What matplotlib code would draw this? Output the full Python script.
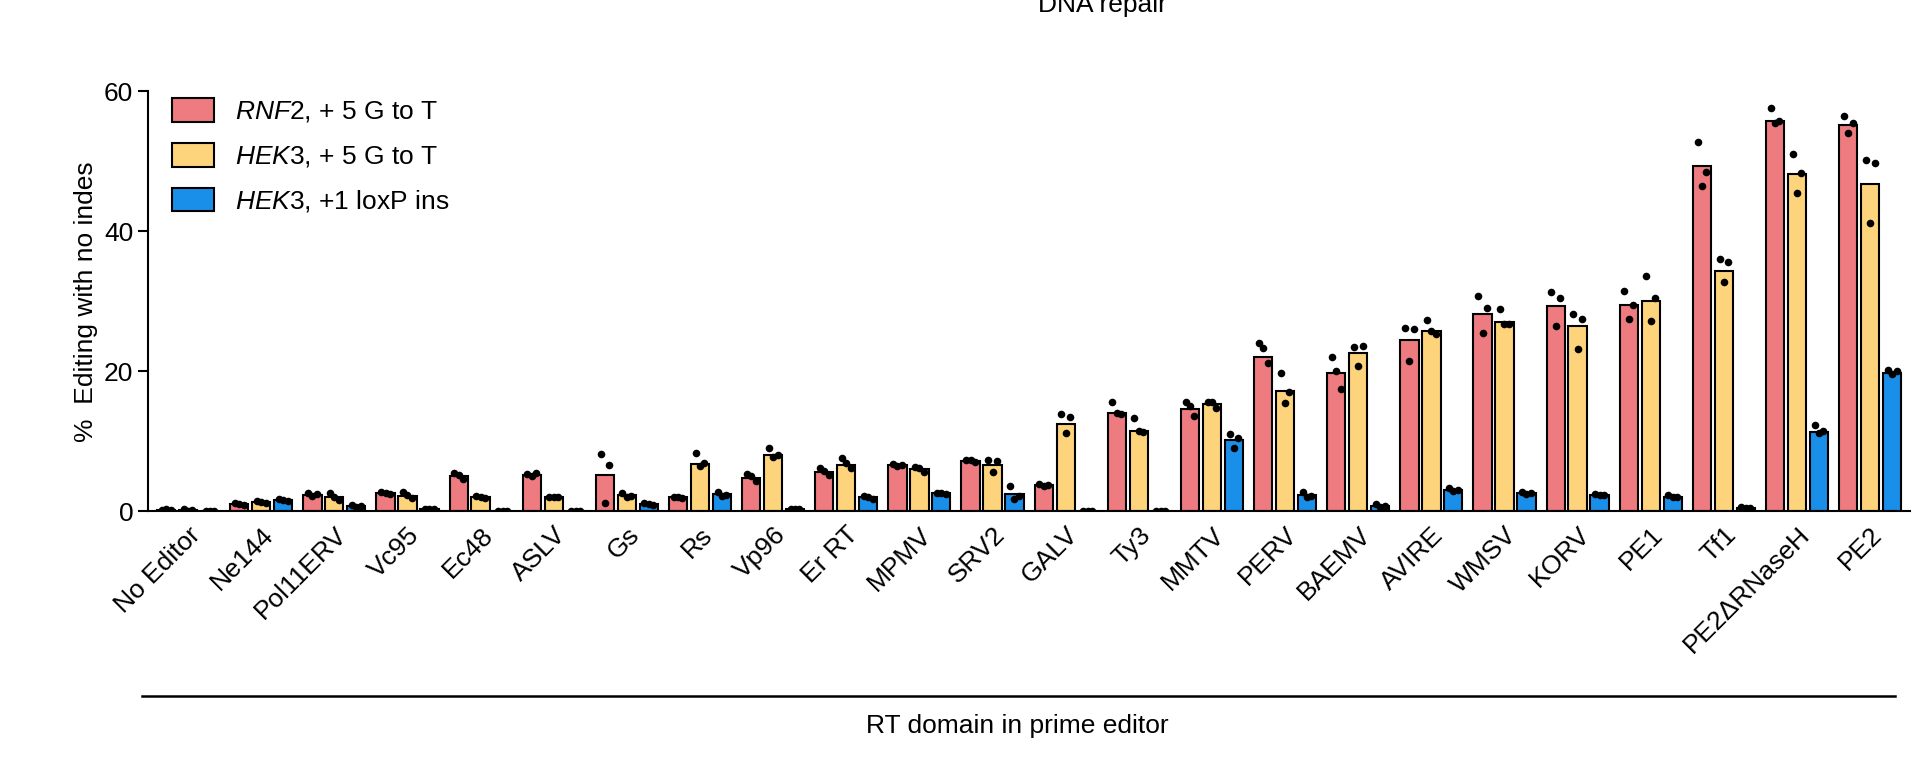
import matplotlib
matplotlib.use("Agg")
import matplotlib.pyplot as plt
import numpy as np

plt.rcParams["font.family"] = "Liberation Sans"
plt.rcParams["mathtext.fontset"] = "custom"
plt.rcParams["mathtext.it"] = "Liberation Sans:italic"
plt.rcParams["mathtext.rm"] = "Liberation Sans"

categories = ["No Editor","Ne144","Pol11ERV","Vc95","Ec48","ASLV","Gs","Rs","Vp96","Er RT",
              "MPMV","SRV2","GALV","Ty3","MMTV","PERV","BAEMV","AVIRE","WMSV","KORV","PE1",
              "Tf1","PE2ΔRNaseH","PE2"]
rnf2_mean = [0.2,1.0,2.4,2.6,5.0,5.2,5.2,2.0,4.8,5.7,6.6,7.2,3.8,14.0,14.6,22.0,19.7,24.5,28.2,29.3,29.5,49.3,55.8,55.2]
hek3_mean = [0.2,1.3,2.0,2.2,2.0,2.0,2.3,6.8,8.0,6.6,6.0,6.7,12.5,11.5,15.3,17.2,22.6,25.8,27.0,26.5,30.0,34.3,48.2,46.8]
loxp_mean = [0.1,1.6,0.8,0.3,0.1,0.1,1.0,2.5,0.3,2.0,2.6,2.5,0.1,0.1,10.2,2.3,0.8,3.1,2.6,2.3,2.1,0.5,11.4,19.8]
rnf2_pts = [[.2,.2,.3],[1.2,.9,1.0],[2.6,2.5,2.2],[2.8,2.5,2.6],[5.5,4.6,5.2],[5.3,5.5,5.0],[8.2,6.6,1.2],
            [2.1,1.9,2.0],[5.3,4.3,5.0],[6.2,5.2,5.8],[6.8,6.6,6.5],[7.4,7.0,7.3],[3.9,3.8,3.7],[15.7,13.9,14.0],
            [15.6,13.7,15.0],[24.0,21.2,23.4],[22.0,17.5,20.0],[26.2,26.0,21.5],[30.8,29.0,25.5],[31.3,30.5,26.5],
            [31.5,29.5,27.5],[52.8,48.5,46.5],[57.6,55.8,55.5],[56.5,55.5,54.0]]
hek3_pts = [[.3,.2,.1],[1.5,1.2,1.3],[2.6,1.6,2.0],[2.8,1.9,2.3],[2.2,1.9,2.0],[2.1,2.0,2.0],[2.7,2.2,2.1],
            [8.3,6.9,6.5],[9.0,8.1,7.8],[7.7,6.2,6.9],[6.3,5.6,6.2],[7.4,7.2,5.6],[13.9,13.5,11.2],[13.3,11.3,11.5],
            [15.7,14.8,15.6],[19.8,17.0,15.5],[23.5,23.6,20.8],[27.3,25.3,25.8],[28.9,26.7,26.8],[28.2,27.5,23.2],
            [33.6,30.5,27.2],[36.0,35.6,32.8],[51.0,48.3,45.5],[50.2,49.8,41.2]]
loxp_pts = [[.1,.1,.1],[1.8,1.5,1.6],[.9,.8,.7],[.3,.3,.3],[.1,.1,.1],[.1,.1,.1],[1.2,.9,1.0],[2.8,2.4,2.2],
            [.3,.3,.3],[2.2,1.8,2.0],[2.7,2.5,2.6],[3.6,2.2,1.8],[.1,.1,.1],[.1,.1,.1],[11.0,10.5,9.0],
            [2.8,2.2,2.0],[1.0,.8,.7],[3.4,3.1,2.9],[2.8,2.6,2.5],[2.5,2.4,2.3],[2.3,2.0,2.1],[.6,.5,.5],
            [12.3,11.5,11.2],[20.2,20.0,19.6]]

fig = plt.figure(figsize=(19.2, 7.6), dpi=100)
ax = fig.add_axes([0.077, 0.327, 0.918, 0.553])
x = np.arange(len(categories))
w = 0.25
series = [(rnf2_mean, rnf2_pts, "#EE7B7F"), (hek3_mean, hek3_pts, "#FDD37C"),
          (loxp_mean, loxp_pts, "#1A8FEA")]
labels = [r"$\mathit{RNF2}$, + 5 G to T", r"$\mathit{HEK3}$, + 5 G to T", r"$\mathit{HEK3}$, +1 loxP ins"]
offs = [-0.3, 0.0, 0.3]
for (m, p, c), off, lab in zip(series, offs, labels):
    ax.bar(x + off, m, width=w, color=c, edgecolor="black", linewidth=1.5, label=lab, zorder=2)
    for i, pts in enumerate(p):
        jit = [-0.06, 0.06, 0.0]
        ax.scatter(x[i] + off + np.array(jit), pts, s=30, color="black", zorder=3, linewidths=0)

ax.set_xlim(-0.55, len(categories) - 0.45)
ax.set_ylim(0, 60)
ax.set_yticks([0, 20, 40, 60])
ax.set_xticks(x)
ax.set_xticklabels(categories, rotation=45, ha="right", rotation_mode="anchor", fontsize=19)
ax.tick_params(axis="x", length=0, pad=8)
ax.tick_params(axis="y", labelsize=19, width=1.5, length=7)
for s in ["top", "right"]:
    ax.spines[s].set_visible(False)
ax.spines["left"].set_linewidth(1.5)
ax.spines["bottom"].set_linewidth(1.5)
ax.set_ylabel("%  Editing with no indes", fontsize=19)
ax.legend(loc="upper left", bbox_to_anchor=(0.0, 1.04), frameon=False, fontsize=19,
          handlelength=1.6, handleheight=1.0, labelspacing=0.7)

fig.add_artist(plt.Line2D([0.074, 0.987], [0.084, 0.084], color="black", linewidth=1.8))
fig.text(0.53, 0.035, "RT domain in prime editor", ha="center", fontsize=19)
fig.text(0.574, 0.993, "DNA repair", ha="center", va="center", fontsize=19)
fig.savefig("out.png", dpi=100)
